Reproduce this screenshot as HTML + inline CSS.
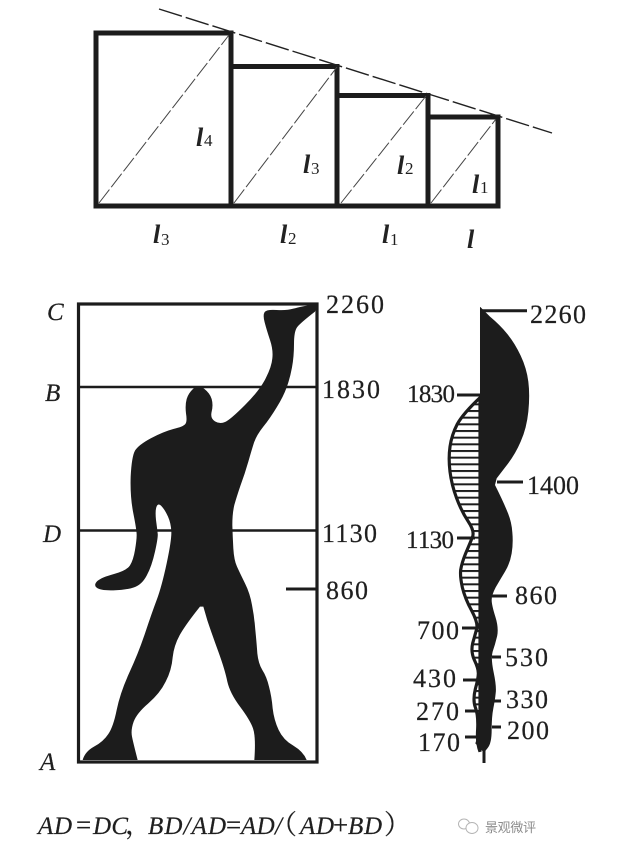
<!DOCTYPE html>
<html>
<head>
<meta charset="utf-8">
<style>
html,body{margin:0;padding:0;background:#fff;}
svg{display:block;}
text{font-family:"Liberation Serif","Noto Serif CJK SC",serif;fill:#1f1f1f;}
.n{font-size:26px;stroke:#1f1f1f;stroke-width:.25px;}
.m{font-size:25px;stroke:#1f1f1f;stroke-width:.25px;font-kerning:none;text-rendering:geometricPrecision;}
.l{font-size:26px;font-style:italic;font-weight:bold;fill:#222;}
.s{font-size:17px;}
.c{font-size:25px;font-style:italic;stroke:#1f1f1f;stroke-width:.2px;}
.f{font-size:25px;font-style:italic;stroke:#1f1f1f;stroke-width:.2px;font-kerning:none;}
.u{font-size:27px;font-style:normal;}
</style>
</head>
<body>
<svg width="640" height="853" viewBox="0 0 640 853" xmlns="http://www.w3.org/2000/svg">
<defs>
<pattern id="h" patternUnits="userSpaceOnUse" width="40" height="20" y="345"><rect width="40" height="20" fill="#fff"/><rect width="40" height="6" fill="#1c1c1c"/></pattern>
</defs>

<!-- squares -->
<g fill="none" stroke="#1c1c1c" stroke-width="5">
<path d="M96 33H231V206H96Z"/>
<path d="M231 66.5H337V206M337 95.5H428V206M428 117H498V206H231"/>
</g>
<g stroke="#444" stroke-width="1" stroke-dasharray="17 3" fill="none">
<path d="M99 203L229 35"/>
<path d="M234 203L337 67"/>
<path d="M341 203L426 96"/>
<path d="M431 203L496 119"/>
</g>
<path d="M159 9L552 133" stroke="#222" stroke-width="1.4" stroke-dasharray="24 4" fill="none"/>

<text class="l" x="196" y="146">l</text><text class="s" x="204" y="146">4</text>
<text class="l" x="303" y="173">l</text><text class="s" x="311" y="174">3</text>
<text class="l" x="397" y="174">l</text><text class="s" x="405" y="174">2</text>
<text class="l" x="472" y="193">l</text><text class="s" x="480" y="193">1</text>
<text class="l" x="153" y="243">l</text><text class="s" x="161" y="245">3</text>
<text class="l" x="280" y="243">l</text><text class="s" x="288" y="244">2</text>
<text class="l" x="382" y="243">l</text><text class="s" x="390" y="245">1</text>
<text class="l" x="467" y="248">l</text>

<!-- man frame -->
<g fill="none" stroke="#1c1c1c">
<rect x="78.5" y="304" width="238.5" height="458" stroke-width="3.2"/>
<path d="M78 387H317M78 530.5H317" stroke-width="2.6"/>
<path d="M286 589H317" stroke-width="3"/>
</g>
<g transform="translate(70 290) scale(0.33333)">
<path fill="#1c1c1c" d="M745 40L735 65Q690 100 681 112Q672 125 672 162Q672 200 666 232Q660 265 650 292Q640 320 620 352Q600 385 580 410Q560 435 552 458Q545 480 535 515Q525 550 512 585Q500 620 493 645Q487 670 487 705Q488 740 490 775Q492 810 501 830Q510 850 525 880Q540 910 546 945Q553 980 556 1020Q560 1060 562 1090Q565 1120 577 1140Q590 1160 597 1190Q605 1220 608 1255Q612 1290 626 1320Q640 1350 670 1367Q700 1385 710 1410L553 1410Q558 1340 549 1315Q540 1290 510 1250Q480 1210 472 1175Q465 1140 445 1085Q425 1030 412 991L400 950L390 950Q350 1000 331 1032Q312 1065 308 1102Q305 1140 287 1175Q270 1210 235 1240Q200 1270 191 1295Q182 1320 186 1340Q190 1360 203 1410L38 1410Q45 1385 72 1370Q100 1355 115 1332Q130 1310 140 1260Q150 1210 177 1150Q205 1090 225 1030Q245 970 260 930Q275 890 290 820Q305 750 304 725Q303 700 294 680Q285 660 275 649Q265 638 260 649Q255 660 258 690Q262 720 263 730Q265 740 255 785Q245 830 230 857Q215 885 192 892Q170 900 130 901Q90 902 80 893Q70 885 82 873Q95 862 132 852Q170 842 180 826Q190 810 195 780Q200 750 200 735Q200 720 190 670Q180 620 182 560Q185 500 195 482Q205 465 242 445Q280 425 310 417Q340 410 346 402Q352 395 348 370Q345 345 350 327Q355 310 370 296Q385 282 402 296Q420 310 425 327Q430 345 425 365Q420 385 435 394Q450 403 465 396Q480 390 525 345Q570 300 587 265Q605 230 607 205Q610 180 600 150Q590 120 584 97Q578 75 584 66Q590 58 620 60Q650 62 670 56Q690 50 745 40Z"/>
</g>

<text class="c" x="47" y="320">C</text>
<text class="c" x="45" y="401">B</text>
<text class="c" x="43" y="542">D</text>
<text class="c" x="40" y="770">A</text>

<text class="n" x="326" y="313" textLength="58">2260</text>
<text class="n" x="322" y="398" textLength="58">1830</text>
<text class="n" x="322" y="542" textLength="55">1130</text>
<text class="n" x="326" y="599" textLength="42">860</text>

<!-- right figure -->
<g transform="translate(400 295) scale(0.33333)">
<path d="M240 308Q190 355 172 387Q155 420 150 455Q145 490 150 530Q155 570 170 610Q185 650 205 680Q225 710 217 727Q210 745 197 775Q185 805 182 825Q180 845 187 877Q195 910 215 947Q235 985 230 1002Q225 1020 218 1045Q212 1070 223 1095Q235 1120 235 1135Q235 1150 226 1182Q218 1215 226 1237Q235 1260 233 1302Q230 1345 240 1370L240 308Z" fill="url(#h)" stroke="#1c1c1c" stroke-width="9.5"/>
<path fill="#1c1c1c" d="M241 36L270 65Q300 90 322 117Q345 145 362 182Q380 220 385 260Q390 300 385 350Q380 400 362 440Q345 480 317 515L290 550L285 570Q310 620 322 650Q335 680 337 712Q340 745 335 775Q330 805 315 830Q300 855 287 877Q275 900 275 915Q275 930 286 965Q297 1000 291 1025Q285 1050 278 1070Q272 1090 281 1132Q290 1175 287 1195Q285 1215 280 1240Q275 1265 275 1305Q275 1345 263 1359L252 1373L226 1345L240 1300L240 36Z"/>
</g>
<g stroke="#1c1c1c" stroke-width="3" fill="none">
<path d="M484 750V763"/>
<path d="M482 310.7H527"/>
<path d="M457 395H480"/>
<path d="M497 482H523"/>
<path d="M457 538H475"/>
<path d="M492 596H507"/>
<path d="M462 628H478"/>
<path d="M492 657H501"/>
<path d="M463 680H477"/>
<path d="M492 701H501"/>
<path d="M465 711H476"/>
<path d="M492 727H501"/>
<path d="M465 737H476"/>
</g>
<text class="n" x="530" y="323" textLength="56">2260</text>
<text class="m" x="407" y="402" textLength="48">1830</text>
<text class="n" x="527" y="494" textLength="52">1400</text>
<text class="m" x="406" y="548" textLength="48">1130</text>
<text class="n" x="515" y="604" textLength="42">860</text>
<text class="n" x="417" y="639" textLength="42">700</text>
<text class="n" x="505" y="666" textLength="43">530</text>
<text class="n" x="413" y="687" textLength="43">430</text>
<text class="n" x="506" y="708" textLength="42">330</text>
<text class="n" x="416" y="720" textLength="43">270</text>
<text class="n" x="507" y="739" textLength="42">200</text>
<text class="n" x="418" y="751" textLength="42">170</text>

<!-- formula -->
<text class="f" x="38" y="834" textLength="34">AD</text>
<text class="f u" x="76" y="834">=</text>
<text class="f" x="93" y="834" textLength="35">DC</text>
<text class="f u" x="125" y="834">，</text>
<text class="f" x="148" y="834" textLength="78">BD/AD</text>
<text class="f u" x="226" y="834">=</text>
<text class="f" x="241" y="834" textLength="41">AD/</text>
<text class="f u" x="270" y="834">（</text>
<text class="f" x="300" y="834" textLength="34">AD</text>
<text class="f u" x="333" y="834">+</text>
<text class="f" x="348" y="834" textLength="34">BD</text>
<text class="f u" x="384" y="834">）</text>

<!-- watermark -->
<g fill="#fff" stroke="#b5b5b5" stroke-width="1">
<ellipse cx="464" cy="824" rx="5.5" ry="5"/>
<ellipse cx="472" cy="828" rx="6" ry="5.5"/>
</g>
<text x="485" y="832" textLength="51" style="font-family:'Liberation Sans','Noto Sans CJK SC',sans-serif;font-size:13px;fill:#8c8c8c;">景观微评</text>
</svg>
</body>
</html>
